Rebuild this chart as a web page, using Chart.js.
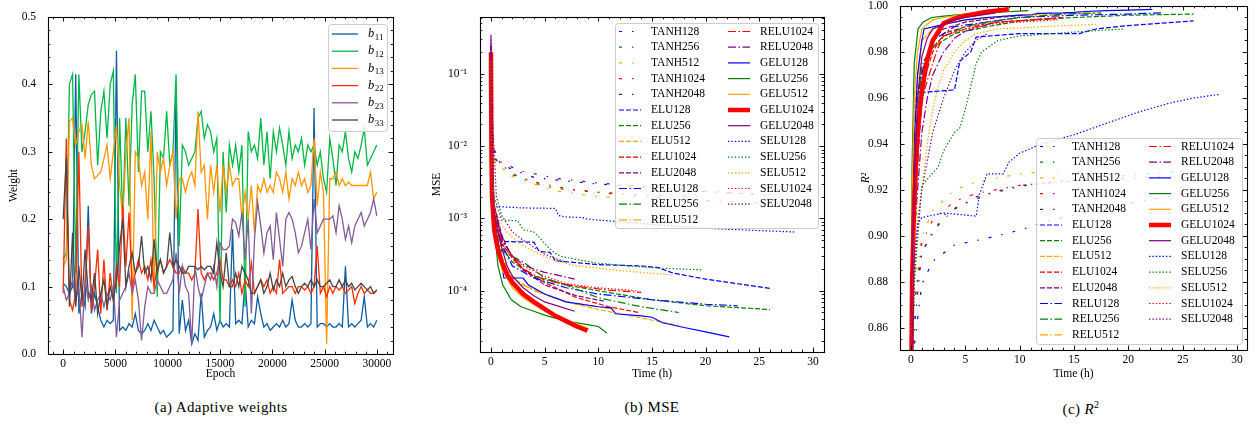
<!DOCTYPE html>
<html>
<head>
<meta charset="utf-8">
<script src="https://cdn.jsdelivr.net/npm/chart.js@4.4.1/dist/chart.umd.min.js"></script>
<style>
  body { margin: 0; background: #fff; width: 1257px; height: 432px; position: relative; overflow: hidden; font-family: "Liberation Serif", serif; color: #000; }
  canvas { position: absolute; top: 0; }
  .cap { position: absolute; top: 399px; font-size: 15px; letter-spacing: 0.4px; transform: translateX(-50%); white-space: nowrap; }
  .cap sup { font-size: 10px; }
</style>
</head>
<body>
<canvas id="cA" width="420" height="390" style="left:0"></canvas>
<canvas id="cB" width="420" height="390" style="left:420px"></canvas>
<canvas id="cC" width="417" height="390" style="left:840px"></canvas>
<div class="cap" style="left:221px">(a) Adaptive weights</div>
<div class="cap" style="left:652px">(b) MSE</div>
<div class="cap" style="left:1081px">(c) <i>R</i><sup>2</sup></div>
<script>
// ---------------- (a) adaptive weights ----------------
var epochs = [0,300,600,900,1200,1500,1800,2100,2400,2700,
  3000,3300,3600,3900,4200,4500,4800,5100,5400,5700,
  6000,6300,6600,6900,7200,7500,7800,8100,8400,8700,
  9000,9300,9600,9900,10200,10500,10800,11100,11400,11700,
  12000,12300,12600,12900,13200,13500,13800,14100,14400,14700,
  15000,15300,15600,15900,16200,16500,16800,17100,17400,17700,
  18000,18300,18600,18900,19200,19500,19800,20100,20400,20700,
  21000,21300,21600,21900,22200,22500,22800,23100,23400,23700,
  24000,24300,24600,24900,25200,25500,25800,26100,26400,26700,
  27000,27300,27600,27900,28200,28500,28800,29100,29400,29700,
  30000]
var b11 = [0.105,0.1,0.09,0.1,0.415,0.06,0.09,0.07,0.22,0.06,
  0.09,0.07,0.05,0.04,0.05,0.045,0.05,0.45,0.035,0.04,
  0.035,0.045,0.04,0.06,0.035,0.03,0.035,0.045,0.035,0.05,
  0.04,0.03,0.035,0.025,0.03,0.035,0.395,0.03,0.08,0.035,
  0.05,0.015,0.03,0.02,0.09,0.025,0.035,0.04,0.06,0.035,
  0.05,0.04,0.045,0.04,0.185,0.045,0.05,0.045,0.11,0.04,
  0.05,0.045,0.085,0.06,0.04,0.045,0.035,0.04,0.045,0.04,
  0.05,0.04,0.045,0.08,0.05,0.04,0.04,0.045,0.04,0.045,
  0.365,0.04,0.045,0.045,0.04,0.045,0.04,0.04,0.045,0.04,
  0.13,0.04,0.045,0.04,0.045,0.05,0.085,0.04,0.045,0.04,
  0.05]
var b12 = [0.14,0.15,0.4,0.415,0.12,0.415,0.3,0.33,0.37,0.385,
  0.39,0.28,0.36,0.39,0.32,0.4,0.42,0.09,0.35,0.2,
  0.35,0.22,0.37,0.415,0.27,0.39,0.39,0.3,0.36,0.26,
  0.085,0.3,0.29,0.36,0.28,0.3,0.415,0.16,0.31,0.3,
  0.28,0.29,0.3,0.35,0.36,0.32,0.34,0.33,0.3,0.32,
  0.045,0.3,0.21,0.31,0.28,0.31,0.27,0.31,0.07,0.33,
  0.3,0.31,0.29,0.35,0.28,0.33,0.26,0.33,0.3,0.335,
  0.31,0.28,0.33,0.29,0.31,0.3,0.32,0.28,0.31,0.3,
  0.31,0.28,0.3,0.26,0.24,0.32,0.29,0.25,0.31,0.3,
  0.33,0.29,0.27,0.3,0.29,0.31,0.335,0.28,0.29,0.3,
  0.31]
var b13 = [0.13,0.14,0.345,0.35,0.31,0.33,0.34,0.29,0.345,0.28,
  0.26,0.265,0.27,0.29,0.31,0.26,0.3,0.34,0.25,0.2,
  0.3,0.35,0.05,0.3,0.29,0.25,0.27,0.2,0.33,0.09,
  0.3,0.27,0.29,0.25,0.28,0.3,0.2,0.26,0.26,0.24,
  0.26,0.27,0.25,0.36,0.27,0.28,0.2,0.28,0.24,0.28,
  0.21,0.28,0.24,0.28,0.25,0.26,0.26,0.2,0.24,0.2,
  0.25,0.18,0.25,0.24,0.26,0.24,0.25,0.24,0.27,0.26,
  0.24,0.27,0.23,0.26,0.25,0.27,0.25,0.26,0.24,0.25,
  0.32,0.22,0.27,0.24,0.015,0.26,0.26,0.27,0.25,0.26,
  0.25,0.255,0.25,0.25,0.25,0.25,0.25,0.25,0.27,0.23,
  0.24]
var b22 = [0.09,0.32,0.08,0.065,0.09,0.3,0.07,0.1,0.19,0.065,
  0.1,0.155,0.06,0.14,0.065,0.12,0.08,0.13,0.1,0.22,
  0.13,0.21,0.1,0.12,0.14,0.12,0.13,0.11,0.14,0.1,
  0.13,0.14,0.12,0.13,0.14,0.13,0.12,0.12,0.13,0.12,
  0.12,0.11,0.12,0.215,0.12,0.11,0.12,0.12,0.11,0.12,
  0.14,0.11,0.11,0.1,0.11,0.1,0.12,0.09,0.11,0.1,
  0.135,0.09,0.1,0.11,0.1,0.11,0.09,0.1,0.09,0.14,
  0.09,0.095,0.1,0.1,0.09,0.1,0.1,0.095,0.1,0.09,
  0.1,0.16,0.09,0.1,0.085,0.1,0.09,0.1,0.095,0.1,
  0.09,0.095,0.1,0.075,0.09,0.1,0.09,0.095,0.09,0.09,
  0.095]
var b23 = [0.1,0.08,0.09,0.11,0.08,0.1,0.025,0.11,0.08,0.1,
  0.065,0.08,0.09,0.07,0.09,0.08,0.1,0.025,0.08,0.09,
  0.1,0.12,0.09,0.11,0.08,0.02,0.07,0.1,0.09,0.09,
  0.11,0.1,0.09,0.09,0.1,0.11,0.15,0.09,0.13,0.1,
  0.09,0.015,0.13,0.1,0.08,0.1,0.12,0.11,0.13,0.1,
  0.165,0.155,0.155,0.16,0.2,0.195,0.175,0.21,0.14,0.2,
  0.06,0.17,0.225,0.19,0.15,0.18,0.19,0.14,0.21,0.17,
  0.13,0.2,0.21,0.2,0.18,0.15,0.16,0.18,0.2,0.155,
  0.23,0.18,0.19,0.2,0.2,0.2,0.205,0.18,0.22,0.2,
  0.17,0.19,0.165,0.19,0.2,0.21,0.19,0.2,0.21,0.23,
  0.205]
var b33 = [0.2,0.29,0.07,0.18,0.07,0.13,0.08,0.155,0.09,0.08,
  0.12,0.06,0.09,0.11,0.07,0.1,0.08,0.11,0.16,0.2,
  0.1,0.13,0.15,0.12,0.13,0.175,0.12,0.13,0.11,0.17,
  0.12,0.14,0.12,0.13,0.18,0.13,0.14,0.13,0.12,0.12,
  0.13,0.13,0.13,0.125,0.13,0.125,0.13,0.13,0.12,0.165,
  0.12,0.1,0.15,0.1,0.1,0.12,0.1,0.13,0.12,0.11,
  0.09,0.09,0.1,0.11,0.09,0.1,0.12,0.095,0.11,0.1,
  0.12,0.1,0.11,0.115,0.1,0.09,0.1,0.105,0.1,0.11,
  0.1,0.11,0.1,0.1,0.105,0.11,0.1,0.1,0.11,0.1,
  0.11,0.1,0.105,0.095,0.1,0.105,0.1,0.095,0.1,0.09,
  0.095]
var weightNames = ['b11', 'b12', 'b13', 'b22', 'b23', 'b33']
var weightSeries = [b11, b12, b13, b22, b23, b33]
var epochTicks = [0, 5000, 10000, 15000, 20000, 25000, 30000]
var weightTicks = [0, 0.1, 0.2, 0.3, 0.4, 0.5]

// ---------------- (b)/(c) training runs ----------------
var runNames = ['TANH128','TANH256','TANH512','TANH1024','TANH2048',
  'ELU128','ELU256','ELU512','ELU1024','ELU2048',
  'RELU128','RELU256','RELU512','RELU1024','RELU2048',
  'GELU128','GELU256','GELU512','GELU1024','GELU2048',
  'SELU128','SELU256','SELU512','SELU1024','SELU2048']
// time in hours
var timeH = [
  [0,0.1,0.3,1,2,4,7,10,13,17,21,26],
  [0,0.1,0.3,1,2,4,7,10,14,19,25],
  [0,0.1,0.3,1,2,4,6,10,15,20],
  [0,0.1,0.3,1,2,4,6,10,15,20],
  [0,0.1,0.3,1,3,6,10,15,20,24],
  [0,0.1,0.3,0.8,1.2,4,4.5,5.5,6,10,14,15.5,17,20,23,26],
  [0,0.1,0.3,1,2,4,7,10,15,20,26],
  [0,0.1,0.3,1,2,3,5,7,10,13,17.5],
  [0,0.1,0.3,1,2,3,5,8,11,13.8],
  [0,0.1,0.3,1,1.5,2,3,5,8,10.5],
  [0,0.1,0.3,0.8,1.2,2,4,7,10,15,20,23],
  [0,0.1,0.3,1,2,3,5,7,10,14,17.5],
  [0,0.1,0.3,1,2,4,7,10,12],
  [0,0.1,0.3,1,2,2.5,3,5,8,11,14],
  [0,0.1,0.3,1,1.5,2,3,4,5,7.8],
  [0,0.1,0.3,0.6,1,1.2,3,3.5,5,7,10,11.2,11.6,14,15,16,18,20,22.2],
  [0,0.1,0.3,0.65,1.1,1.9,2.8,4,5,7,9,10,10.8],
  [0,0.1,0.3,0.6,1,2,3,5,7,9.1],
  [0,0.05,0.1,0.3,0.6,1,1.5,2,3,4,5,6,7,8,9],
  [0,0.1,0.3,0.6,1,1.5,2,3,4,5,7.8],
  [0,0.1,0.3,0.6,1,3,6,6.3,7,8.5,9,10,12,15,18,21,24,26,28.3],
  [0,0.1,0.3,1,2.5,3,4,4.5,5,5.5,6,6.5,8,10,13,16,19.6],
  [0,0.1,0.3,1,1.5,2,2.5,3,4,5,6,8,12,17],
  [0,0.1,0.3,0.8,1.5,2,3,5,7,10,13.5],
  [0,0.1,0.3,0.5,1,2,3,4,5,6,7]
]
var mse = [
  [0.2,0.02,7.5e-3,5.5e-3,4.8e-3,3.7e-3,3.3e-3,3.0e-3,2.8e-3,2.5e-3,2.3e-3,2.1e-3],
  [0.15,0.02,7e-3,5e-3,4e-3,3.2e-3,2.6e-3,2.3e-3,2.0e-3,1.8e-3,1.65e-3],
  [0.15,0.02,6.5e-3,5e-3,3.8e-3,3e-3,2.4e-3,2.0e-3,1.85e-3,1.75e-3],
  [0.15,0.02,7e-3,5.5e-3,4.2e-3,3.1e-3,2.6e-3,2.3e-3,2.1e-3,2.0e-3],
  [0.2,0.03,9e-3,5.8e-3,4.5e-3,3.6e-3,3.1e-3,2.7e-3,2.4e-3,2.2e-3],
  [0.15,5e-3,1.5e-3,7e-4,4.8e-4,4.7e-4,3.5e-4,3.4e-4,2.6e-4,2.3e-4,2.2e-4,2.1e-4,1.75e-4,1.45e-4,1.25e-4,1.08e-4],
  [0.15,3e-3,1e-3,4e-4,2.5e-4,1.6e-4,1.2e-4,1e-4,7.5e-5,6.2e-5,5.5e-5],
  [0.15,2e-3,8e-4,3e-4,1.5e-4,1.2e-4,9e-5,7e-5,5.5e-5,4.5e-5,3.3e-5],
  [0.15,3e-3,1.2e-3,4.5e-4,2.8e-4,1.9e-4,1.3e-4,8e-5,6e-5,5e-5],
  [0.25,4e-3,1.5e-3,6e-4,4e-4,3e-4,2e-4,1.2e-4,8.5e-5,7.2e-5],
  [0.15,3e-3,1.2e-3,6e-4,3.8e-4,2.2e-4,1.5e-4,1.1e-4,9e-5,7.5e-5,6.5e-5,6.2e-5],
  [0.15,2e-3,8e-4,3.5e-4,3e-4,2.5e-4,1.5e-4,1.2e-4,8e-5,6e-5,5e-5],
  [0.15,1.5e-3,6e-4,2.5e-4,1.5e-4,1e-4,7e-5,6e-5,5.5e-5],
  [0.15,3e-3,1.2e-3,5e-4,3e-4,2.4e-4,2e-4,1.4e-4,1.15e-4,1.02e-4,9.5e-5],
  [0.25,4e-3,1.5e-3,5.5e-4,4e-4,3e-4,2.3e-4,2e-4,1.8e-4,1.45e-4],
  [0.15,2e-3,1e-3,5e-4,2.5e-4,1.5e-4,1.5e-4,1.2e-4,9e-5,7e-5,6e-5,5.8e-5,4.8e-5,4.5e-5,4.3e-5,3.6e-5,3.1e-5,2.7e-5,2.3e-5],
  [0.15,2e-3,8e-4,2.2e-4,1.2e-4,7.5e-5,6e-5,5.2e-5,4.6e-5,3.8e-5,3.4e-5,3.2e-5,2.6e-5],
  [0.15,2e-3,9e-4,4e-4,2e-4,1.1e-4,8e-5,5.2e-5,4e-5,3e-5],
  [0.2,8e-3,2e-3,7e-4,4e-4,2.5e-4,1.7e-4,1.3e-4,9e-5,7e-5,5.6e-5,4.5e-5,3.8e-5,3.2e-5,2.8e-5],
  [0.35,4e-3,1.2e-3,7e-4,4e-4,2.2e-4,1.6e-4,1.1e-4,8.5e-5,7e-5,5.2e-5],
  [0.15,5e-3,1.5e-3,1.45e-3,1.45e-3,1.4e-3,1.38e-3,1.1e-3,1.05e-3,1.03e-3,9.8e-4,9.5e-4,9e-4,8.3e-4,7.7e-4,7.2e-4,6.9e-4,6.7e-4,6.5e-4],
  [0.15,5e-3,2e-3,9.5e-4,9.3e-4,7e-4,6.5e-4,5.5e-4,4.5e-4,3.8e-4,3.3e-4,3e-4,2.7e-4,2.4e-4,2.2e-4,2.05e-4,1.95e-4],
  [0.15,4e-3,1.5e-3,8e-4,6.5e-4,5.5e-4,4.8e-4,4.2e-4,3.5e-4,3e-4,2.6e-4,2.2e-4,1.9e-4,1.65e-4],
  [0.15,4e-3,1.2e-3,6e-4,3.5e-4,3e-4,2.2e-4,1.6e-4,1.25e-4,1.1e-4,1e-4],
  [0.3,0.02,9e-3,2e-3,1.1e-3,6.5e-4,5e-4,4e-4,3.2e-4,2.8e-4,2.5e-4]
]
var r2 = [
  [0.80,0.83,0.852,0.879,0.889,0.896,0.899,0.9025,0.907,0.911,0.915,0.919],
  [0.80,0.84,0.87,0.893,0.902,0.912,0.918,0.9215,0.924,0.926,0.928],
  [0.80,0.85,0.88,0.9,0.911,0.92,0.9235,0.927,0.929,0.930],
  [0.80,0.84,0.87,0.897,0.907,0.915,0.9185,0.922,0.924,0.925],
  [0.80,0.83,0.86,0.893,0.909,0.917,0.922,0.924,0.925,0.926],
  [0.80,0.88,0.93,0.955,0.9625,0.9635,0.976,0.98,0.9865,0.988,0.988,0.988,0.990,0.9915,0.9925,0.9935],
  [0.80,0.9,0.95,0.972,0.982,0.988,0.991,0.9935,0.995,0.996,0.9965],
  [0.80,0.92,0.955,0.985,0.99,0.992,0.994,0.995,0.996,0.9965,0.997],
  [0.80,0.88,0.91,0.965,0.98,0.988,0.991,0.993,0.994,0.995],
  [0.80,0.87,0.91,0.96,0.975,0.985,0.99,0.993,0.995,0.996],
  [0.80,0.88,0.91,0.965,0.975,0.985,0.991,0.993,0.995,0.996,0.9965,0.997],
  [0.80,0.9,0.93,0.975,0.982,0.987,0.991,0.993,0.995,0.9965,0.997],
  [0.80,0.92,0.95,0.985,0.99,0.993,0.995,0.996,0.9965],
  [0.80,0.87,0.91,0.96,0.975,0.982,0.987,0.99,0.993,0.994,0.995],
  [0.80,0.86,0.9,0.945,0.96,0.97,0.98,0.986,0.989,0.993],
  [0.80,0.9,0.94,0.97,0.985,0.99,0.992,0.9925,0.994,0.995,0.996,0.9962,0.9968,0.997,0.9972,0.9976,0.998,0.9982,0.9985],
  [0.80,0.93,0.975,0.99,0.993,0.995,0.9955,0.996,0.9965,0.997,0.9975,0.9978,0.998],
  [0.80,0.92,0.96,0.98,0.99,0.994,0.995,0.9965,0.9975,0.998],
  [0.80,0.85,0.88,0.915,0.945,0.963,0.977,0.985,0.9925,0.9945,0.9958,0.9966,0.9975,0.998,0.9986],
  [0.80,0.88,0.92,0.96,0.978,0.986,0.99,0.992,0.994,0.995,0.997],
  [0.80,0.85,0.88,0.905,0.908,0.91,0.9086,0.918,0.927,0.927,0.932,0.936,0.94,0.944,0.949,0.954,0.958,0.960,0.9615],
  [0.80,0.84,0.88,0.922,0.93,0.937,0.945,0.947,0.955,0.965,0.975,0.98,0.985,0.987,0.988,0.989,0.990],
  [0.80,0.86,0.9,0.92,0.94,0.955,0.965,0.972,0.98,0.985,0.988,0.99,0.991,0.992],
  [0.80,0.86,0.9,0.95,0.975,0.982,0.987,0.99,0.992,0.993,0.994],
  [0.80,0.85,0.89,0.9,0.92,0.945,0.96,0.972,0.98,0.985,0.988]
]
var hourTicks = [0, 5, 10, 15, 20, 25, 30]
var mseTicks = [1e-4, 1e-3, 1e-2, 1e-1]
var r2Ticks = [0.86, 0.88, 0.90, 0.92, 0.94, 0.96, 0.98, 1.00]

// ---------------- drawing ----------------
var FONT = "'Liberation Serif', 'Times New Roman', serif"
Chart.defaults.font.family = FONT
Chart.defaults.font.size = 11.5
Chart.defaults.color = '#000'

function minorValues(scale, step) {
    var out = []
    if (step === 'log') {
        for (var e = Math.floor(Math.log10(scale.min)); e <= Math.ceil(Math.log10(scale.max)); e++)
            for (var k = 2; k <= 9; k++) out.push(k * Math.pow(10, e))
    } else {
        for (var v = Math.ceil(scale.min / step) * step; v <= scale.max + 1e-9; v += step) out.push(v)
    }
    return out
}

// inward ticks on all four sides + frame, matplotlib style
var frameTicks = {
    id: 'frameTicks',
    afterDatasetsDraw: function (chart, args, o) {
        var ctx = chart.ctx, a = chart.chartArea
        var xs = chart.scales.x, ys = chart.scales.y
        ctx.save()
        ctx.strokeStyle = '#000'
        ctx.lineWidth = 0.9
        ctx.beginPath()
        function mark(scale, v, len) {
            if (v < scale.min - 1e-12 || v > scale.max + 1e-12) return
            var p = Math.round(scale.getPixelForValue(v)) + 0.5
            if (scale === xs) {
                ctx.moveTo(p, a.bottom); ctx.lineTo(p, a.bottom - len)
                ctx.moveTo(p, a.top); ctx.lineTo(p, a.top + len)
            } else {
                ctx.moveTo(a.left, p); ctx.lineTo(a.left + len, p)
                ctx.moveTo(a.right, p); ctx.lineTo(a.right - len, p)
            }
        }
        xs.ticks.forEach(function (t) { mark(xs, t.value, 4.5) })
        ys.ticks.forEach(function (t) { mark(ys, t.value, 4.5) })
        minorValues(xs, o.xMinor).forEach(function (v) { mark(xs, v, 2.3) })
        minorValues(ys, o.yMinor).forEach(function (v) { mark(ys, v, 2.3) })
        ctx.stroke()
        ctx.lineWidth = 1.1
        ctx.strokeRect(a.left + 0.5, a.top + 0.5, a.right - a.left, a.bottom - a.top)
        ctx.restore()
    }
}

// framed legend inside the axes
var boxLegend = {
    id: 'boxLegend',
    afterDatasetsDraw: function (chart, args, o) {
        var ctx = chart.ctx, a = chart.chartArea
        var x0 = Math.round(a.right - o.inset[0] - o.width)
        var y0 = Math.round(o.bottom ? a.bottom - o.inset[1] - o.height : a.top + o.inset[1])
        ctx.save()
        ctx.fillStyle = 'rgba(255,255,255,0.8)'
        ctx.strokeStyle = 'rgba(200,200,200,0.9)'
        ctx.lineWidth = 1
        ctx.beginPath()
        if (ctx.roundRect) ctx.roundRect(x0 + 0.5, y0 + 0.5, o.width, o.height, 3)
        else ctx.rect(x0 + 0.5, y0 + 0.5, o.width, o.height)
        ctx.fill()
        ctx.stroke()
        chart.data.datasets.forEach(function (ds, i) {
            var col = Math.floor(i / o.rows), row = i % o.rows
            var hx = x0 + o.cols[col], hy = y0 + o.first + row * o.rowH
            ctx.strokeStyle = ds.borderColor
            ctx.lineWidth = ds.borderWidth
            ctx.setLineDash(ds.borderDash || [])
            ctx.beginPath()
            ctx.moveTo(hx, hy)
            ctx.lineTo(hx + o.handle, hy)
            ctx.stroke()
            ctx.setLineDash([])
            ctx.fillStyle = '#000'
            ctx.textBaseline = 'middle'
            var tx = hx + o.textGap
            if (o.sub) {
                ctx.font = 'italic 12.5px ' + FONT
                ctx.fillText(ds.label[0], tx, hy)
                var w = ctx.measureText(ds.label[0]).width
                ctx.font = '9px ' + FONT
                ctx.fillText(ds.label.slice(1), tx + w + 0.5, hy + 3.5)
            } else {
                ctx.font = '11.5px ' + FONT
                ctx.fillText(ds.label, tx, hy)
            }
        })
        ctx.restore()
    }
}

var SUP = {'-': '\u207B', '0': '\u2070', '1': '\u00B9', '2': '\u00B2', '3': '\u00B3', '4': '\u2074', '5': '\u2075', '6': '\u2076', '7': '\u2077', '8': '\u2078', '9': '\u2079'}
function powLabel(v) {
    var e = String(Math.round(Math.log10(v)))
    return '10' + e.split('').map(function (c) { return SUP[c] }).join('')
}

function makeOptions(c) {
    return {
        responsive: false,
        animation: false,
        events: [],
        layout: { padding: { left: 0, top: c.top, right: c.right, bottom: 0 } },
        plugins: {
            legend: { display: false },
            tooltip: { enabled: false },
            frameTicks: { xMinor: c.xMinor, yMinor: c.yMinor },
            boxLegend: c.legend
        },
        scales: {
            x: {
                type: 'linear', min: c.xMin, max: c.xMax,
                grid: { display: false }, border: { display: false },
                afterBuildTicks: function (s) { s.ticks = c.xTicks.map(function (v) { return { value: v } }) },
                afterFit: function (s) { s.height = c.xH; s.paddingLeft = 0; s.paddingRight = 0 },
                ticks: { padding: -5, maxRotation: 0, autoSkip: false, callback: c.xFmt },
                title: { display: true, text: c.xTitle, padding: { top: 0, bottom: 9 } }
            },
            y: {
                type: c.yType, min: c.yMin, max: c.yMax,
                grid: { display: false }, border: { display: false },
                afterBuildTicks: function (s) { s.ticks = c.yTicks.map(function (v) { return { value: v } }) },
                afterFit: function (s) { s.width = c.yW; s.paddingTop = 0; s.paddingBottom = 0 },
                ticks: { padding: c.yPad, autoSkip: false, callback: c.yFmt },
                title: { display: true, text: c.yTitle, padding: { top: c.yTitlePad, bottom: 0 }, font: c.yTitleFont }
            }
        }
    }
}

// ---- chart (a)
var weightColors = ['#0C5DA5', '#00B945', '#FF9500', '#FF2C00', '#845B97', '#474747']
new Chart(document.getElementById('cA'), {
    type: 'line',
    data: {
        datasets: weightNames.map(function (name, i) {
            return {
                label: name,
                data: epochs.map(function (e, j) { return { x: e, y: weightSeries[i][j] } }),
                borderColor: weightColors[i], borderWidth: 1.3,
                pointRadius: 0, tension: 0, fill: false, order: -i
            }
        })
    },
    options: makeOptions({
        top: 17, right: 27, xH: 36, yW: 48, yPad: 4, yTitlePad: 7,
        xMin: -1450, xMax: 31550, xTicks: epochTicks, xMinor: 1000, xTitle: 'Epoch',
        xFmt: function (v) { return String(v) },
        yType: 'linear', yMin: 0, yMax: 0.5, yTicks: weightTicks, yMinor: 0.02, yTitle: 'Weight',
        yFmt: function (v) { return v.toFixed(1) },
        legend: { inset: [6, 7], width: 59, height: 107, rows: 6, rowH: 17.2, first: 10, cols: [4], handle: 26, textGap: 36, sub: true }
    }),
    plugins: [frameTicks, boxLegend]
})

// ---- charts (b) and (c)
var sizeColor = { '128': '#0000ff', '256': '#008000', '512': '#ffa500', '1024': '#ff0000', '2048': '#800080' }
var actDash = { TANH: [3, 10, 1.5, 10], ELU: [5, 2], RELU: [8, 2.5, 1.5, 2.5], GELU: [], SELU: [1.4, 2] }
function runSets(values) {
    return runNames.map(function (name, i) {
        var act = name.match(/^[A-Z]+/)[0], size = name.slice(act.length)
        return {
            label: name,
            data: timeH[i].map(function (t, j) { return { x: t, y: values[i][j] } }),
            borderColor: sizeColor[size],
            borderWidth: name === 'GELU1024' ? 4.5 : 1.2,
            borderDash: actDash[act],
            pointRadius: 0, tension: 0, fill: false, order: -i
        }
    })
}
var runLegend = { rows: 13, rowH: 15.7, first: 8.5, cols: [4, 113], handle: 22, textGap: 32 }

new Chart(document.getElementById('cB'), {
    type: 'line',
    data: { datasets: runSets(mse) },
    options: makeOptions({
        top: 17, right: 16, xH: 38, yW: 60, yPad: 5, yTitlePad: 10,
        xMin: -1.02, xMax: 31.03, xTicks: hourTicks, xMinor: 1, xTitle: 'Time (h)',
        xFmt: function (v) { return String(v) },
        yType: 'logarithmic', yMin: 1.42e-5, yMax: 0.614, yTicks: mseTicks, yMinor: 'log', yTitle: 'MSE',
        yFmt: powLabel,
        legend: Object.assign({ inset: [6, 6], width: 203, height: 205 }, runLegend)
    }),
    plugins: [frameTicks, boxLegend]
})

new Chart(document.getElementById('cC'), {
    type: 'line',
    data: { datasets: runSets(r2) },
    options: makeOptions({
        top: 6, right: 10, xH: 40, yW: 60, yPad: 4, yTitlePad: 19,
        xMin: -1.01, xMax: 30.92, xTicks: hourTicks, xMinor: 1, xTitle: 'Time (h)',
        xFmt: function (v) { return String(v) },
        yType: 'linear', yMin: 0.8504, yMax: 1.0, yTicks: r2Ticks, yMinor: 0.005, yTitle: 'R\u00B2',
        yTitleFont: { style: 'italic' },
        yFmt: function (v) { return v.toFixed(2) },
        legend: Object.assign({ inset: [5, 6], width: 206, height: 206, bottom: true }, runLegend)
    }),
    plugins: [frameTicks, boxLegend]
})
</script>
</body>
</html>
